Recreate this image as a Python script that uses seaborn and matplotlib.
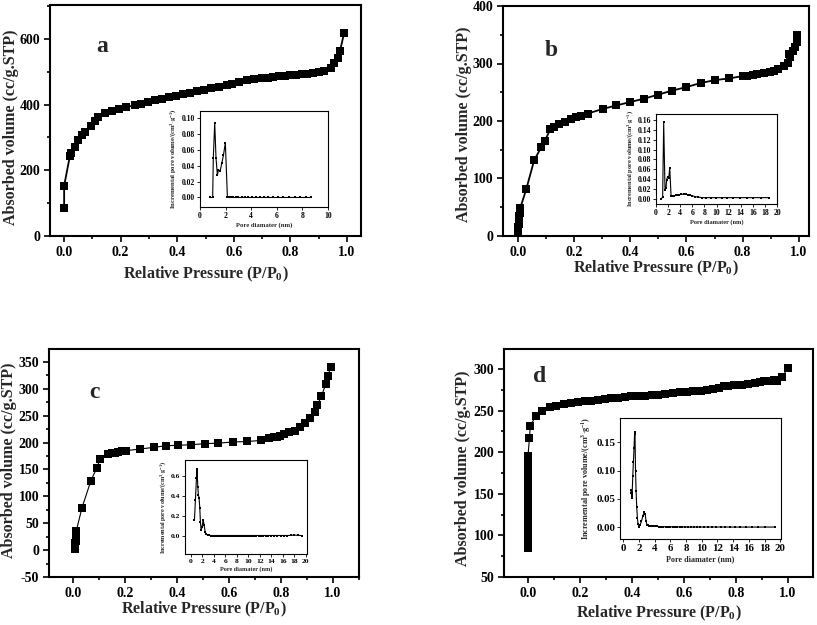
import matplotlib
matplotlib.use('Agg')
import matplotlib.pyplot as plt
import seaborn as sns
from matplotlib.ticker import MultipleLocator

# ---- panel a: isotherm ----
a_p = [0.0, 0.0, 0.02, 0.026, 0.038, 0.05, 0.063, 0.075, 0.095, 0.109, 0.121,
       0.146, 0.17, 0.193, 0.22, 0.249, 0.273, 0.297, 0.32, 0.346, 0.371,
       0.397, 0.419, 0.445, 0.471, 0.495, 0.521, 0.547, 0.575, 0.595, 0.62,
       0.646, 0.672, 0.70, 0.72, 0.74, 0.76, 0.78, 0.80, 0.82, 0.84,
       0.86, 0.88, 0.90, 0.92, 0.943, 0.955, 0.967, 0.976, 0.99]
a_v = [84, 153, 242, 252, 272, 292, 308, 318, 336, 350, 363,
       373, 381, 387, 392, 398, 403, 409, 414, 418, 423,
       427, 431, 436, 440, 445, 449, 454, 459, 464, 469,
       474, 478, 481, 482, 484, 486, 487, 489, 491, 492,
       494, 496, 499, 502, 511, 526, 541, 564, 617]
# panel a: pore size distribution
ia_d = [0.78, 0.99, 1.04, 1.15, 1.25, 1.36, 1.44, 1.57, 1.70, 1.83, 1.98, 2.14,
        2.27, 2.43, 2.6, 2.8, 3.0, 3.25, 3.5, 3.75, 4.05, 4.35, 4.65, 5.0,
        5.35, 5.7, 6.1, 6.5, 6.95, 7.4, 7.85, 8.3, 8.7]
ia_v = [0.0, 0.0, 0.050, 0.094, 0.050, 0.028, 0.035, 0.033, 0.043, 0.053, 0.069, 0.001,
        0.0, 0.0, 0.0, 0.0, 0.0, 0.0, 0.0, 0.0, 0.0, 0.0, 0.0, 0.0,
        0.0, 0.0, 0.0, 0.0, 0.0, 0.0, 0.0, 0.0, 0.0]

# ---- panel b ----
b_p = [0.0005, 0.001, 0.0015, 0.002, 0.0025, 0.003, 0.004, 0.005, 0.006, 0.007, 0.008,
       0.0296, 0.058, 0.083, 0.097, 0.115, 0.129, 0.145, 0.166, 0.19, 0.206,
       0.224, 0.249, 0.302, 0.35, 0.4, 0.45, 0.5, 0.55, 0.6, 0.65,
       0.7, 0.75, 0.8, 0.814, 0.835, 0.852, 0.877, 0.897, 0.911, 0.924,
       0.948, 0.96, 0.964, 0.97, 0.98, 0.986, 0.992, 0.994]
b_v = [0, 5, 10, 15, 20, 25, 30, 35, 40, 45, 48,
       81, 132, 154, 166, 186, 190, 194, 199, 203, 207,
       209, 213, 221, 227, 233, 239, 246, 253, 259, 266,
       271, 274, 278, 279, 280, 282, 283, 285, 287, 290,
       296, 301, 316, 311, 321, 329, 338, 350]
ib_d = [0.88, 1.1, 1.27, 1.49, 1.66, 1.77, 1.93, 2.1, 2.27, 2.49,
        2.71, 2.98, 3.25, 3.55, 3.85, 4.2, 4.55, 4.9, 5.25, 5.6,
        6.0, 6.5, 7.0, 7.6, 8.3, 9.1, 9.9, 10.9, 11.8, 12.8,
        13.9, 15.0, 16.1, 17.3, 18.6]
ib_v = [0.0, 0.003, 0.156, 0.018, 0.022, 0.039, 0.045, 0.042, 0.063, 0.006,
        0.006, 0.006, 0.007, 0.007, 0.008, 0.009, 0.009, 0.009, 0.008, 0.007,
        0.006, 0.004, 0.003, 0.002, 0.002, 0.002, 0.002, 0.002, 0.002, 0.002,
        0.002, 0.002, 0.002, 0.002, 0.002]

# ---- panel c ----
c_p = [0.008, 0.0085, 0.009, 0.0095, 0.010, 0.0105, 0.011, 0.0115, 0.012, 0.0125,
       0.035, 0.069, 0.092, 0.105, 0.133, 0.15, 0.162, 0.175, 0.188, 0.205,
       0.258, 0.31, 0.357, 0.405, 0.454, 0.508, 0.559, 0.616, 0.67, 0.725,
       0.754, 0.772, 0.783, 0.795, 0.81, 0.83, 0.853, 0.872, 0.891, 0.91,
       0.93, 0.94, 0.955, 0.972, 0.981, 0.991]
c_v = [2, 5, 9, 13, 17, 21, 25, 29, 32, 35,
       79, 129, 153, 170, 178, 180, 181, 183, 184, 185,
       188, 191, 194, 195, 196, 198, 199, 201, 202, 204,
       208, 210, 211, 213, 216, 219, 222, 229, 236, 246,
       257, 270, 286, 308, 324, 341]
ic_d = [0.64, 0.81, 0.99, 1.1, 1.22, 1.33, 1.45, 1.57, 1.68, 1.8,
        1.97, 2.14, 2.32, 2.5, 2.72, 2.96,
        3.2, 3.5, 3.8, 4.1, 4.4, 4.7, 5.0, 5.3, 5.6, 5.9,
        6.2, 6.5, 6.8, 7.1, 7.4, 7.7, 8.0, 8.3, 8.6, 8.9,
        9.2, 9.5, 9.8, 10.1, 10.4, 10.7, 11.0, 11.4, 11.8, 12.2,
        12.6, 13.0, 13.5, 14.0, 14.5, 15.0, 15.6, 16.2, 16.8, 17.4,
        18.0, 18.6, 19.3]
ic_v = [0.16, 0.36, 0.58, 0.67, 0.49, 0.41, 0.38, 0.28, 0.14, 0.06,
        0.09, 0.16, 0.11, 0.04, 0.017, 0.008,
        0.006, 0.005, 0.005, 0.005, 0.005, 0.005, 0.005, 0.005, 0.005, 0.005,
        0.005, 0.005, 0.005, 0.005, 0.005, 0.005, 0.005, 0.005, 0.005, 0.005,
        0.005, 0.005, 0.005, 0.005, 0.005, 0.005, 0.005, 0.005, 0.005, 0.005,
        0.005, 0.005, 0.005, 0.005, 0.005, 0.005, 0.005, 0.005, 0.005, 0.006,
        0.010, 0.006, 0.005]

# ---- panel d ----
d_p = [0.0, 0.0, 0.0, 0.0, 0.0, 0.0, 0.0, 0.0, 0.0, 0.0, 0.0, 0.0,
       0.0, 0.0, 0.0, 0.0, 0.0, 0.0, 0.0, 0.0, 0.0, 0.0, 0.0,
       0.006, 0.009, 0.03, 0.054, 0.084, 0.109, 0.137, 0.167, 0.193, 0.219,
       0.244, 0.27, 0.296, 0.321, 0.347, 0.373, 0.398, 0.424, 0.45, 0.476,
       0.501, 0.527, 0.559, 0.585, 0.613, 0.636, 0.665, 0.688, 0.711, 0.733,
       0.754, 0.771, 0.793, 0.823, 0.848, 0.874, 0.893, 0.908, 0.925, 0.945,
       0.958, 0.977, 0.999]
d_v = [85, 90, 95, 100, 105, 110, 115, 120, 125, 130, 135, 140,
       145, 150, 155, 160, 165, 170, 175, 180, 185, 190, 195,
       217, 231, 244, 250, 254, 256, 258, 259, 260, 261,
       262, 263, 264, 265, 265.5, 266, 267, 268, 268, 269,
       269, 270, 271, 272, 272, 273, 274, 275, 276, 277,
       279, 280, 281, 281, 282, 283, 284, 285, 286, 287,
       286, 290, 301]
id_d = [0.95, 1.0, 1.05, 1.1, 1.2, 1.28, 1.36, 1.43, 1.48, 1.55,
        1.62, 1.7, 1.79, 1.87, 2.0, 2.13, 2.3, 2.47, 2.64, 2.77,
        2.9, 3.02, 3.15, 3.3, 3.5, 3.7, 3.9, 4.1, 4.35, 4.6,
        4.85, 5.1, 5.4, 5.7, 6.0, 6.3, 6.6, 6.9, 7.2, 7.5,
        7.8, 8.2, 8.6, 9.0, 9.4, 9.8, 10.3, 10.8, 11.3, 11.8,
        12.4, 13.0, 13.6, 14.2, 14.9, 15.6, 16.4, 17.2, 18.1, 19.3]
id_v = [0.060, 0.065, 0.063, 0.052, 0.090, 0.116, 0.140, 0.165, 0.168, 0.100,
        0.064, 0.036, 0.016, 0.005, 0.0, 0.004, 0.010, 0.019, 0.026, 0.024,
        0.010, 0.0035, 0.003, 0.0025, 0.002, 0.002, 0.0018, 0.0015, 0.0012, 0.001,
        0.001, 0.0008, 0.0006, 0.0005, 0.0005, 0.0004, 0.0004, 0.0003, 0.0003, 0.0003,
        0.0002, 0.0002, 0.0002, 0.0002, 0.0002, 0.0002, 0.0002, 0.0002, 0.0002, 0.0002,
        0.0002, 0.0002, 0.0001, 0.0001, 0.0001, 0.0001, 0.0001, 0.0001, 0.0001, 0.0001]

XLABEL = 'Relative Pressure (P/P$_\\mathregular{0}$)'
YLABEL = 'Absorbed volume (cc/g.STP)'
IXLABEL = 'Pore diamater (nm)'
IYLABEL = 'Incremental pore volume/(cm$^\\mathregular{3}$$\\cdot$g$^\\mathregular{-1}$)'

W, H = 817, 625


def px_box(l, t, r, b):
    return [l / W, 1 - b / H, (r - l) / W, (b - t) / H]


sns.set_style('ticks')
plt.rcParams['font.family'] = ['Liberation Serif', 'DejaVu Serif']
plt.rcParams['font.weight'] = 'bold'
plt.rcParams['axes.labelweight'] = 'bold'
plt.rcParams['mathtext.fontset'] = 'custom'
plt.rcParams['mathtext.rm'] = 'Liberation Serif:bold'
plt.rcParams['mathtext.bf'] = 'Liberation Serif:bold'
plt.rcParams['axes.unicode_minus'] = False
plt.rcParams['axes.edgecolor'] = 'black'

fig = plt.figure(figsize=(8.17, 6.25), dpi=100)


def main_panel(box, p, v, xlim, ylim, ymaj, ymin, xmaj, lw, xlab_y, ylab_x, ylab_y, letter, letter_xy):
    ax = fig.add_axes(px_box(*box))
    sns.lineplot(x=p, y=v, ax=ax, color='black', marker='s', markersize=5.2,
                 markeredgewidth=0, linewidth=lw, sort=False, estimator=None)
    ax.set_xlim(*xlim)
    ax.set_ylim(*ylim)
    ax.xaxis.set_major_locator(MultipleLocator(xmaj))
    ax.xaxis.set_minor_locator(MultipleLocator(xmaj / 2))
    ax.yaxis.set_major_locator(MultipleLocator(ymaj))
    ax.yaxis.set_minor_locator(MultipleLocator(ymin))
    ax.tick_params(which='both', direction='out', width=1.2, labelsize=10,
                   colors='black', pad=2.5)
    ax.tick_params(which='major', length=4.5)
    ax.tick_params(which='minor', length=2.5)
    for s in ax.spines.values():
        s.set_linewidth(1.5)
        s.set_visible(True)
    ax.set_xlabel(XLABEL, fontsize=11.5, fontweight='bold')
    ax.set_ylabel(YLABEL, fontsize=11.5, fontweight='bold')
    ax.xaxis.set_label_coords(0.5, xlab_y)
    ax.yaxis.set_label_coords(ylab_x, ylab_y)
    fig.text(letter_xy[0] / W, 1 - letter_xy[1] / H, letter, fontsize=17,
             fontweight='bold', ha='center', va='center')
    ax.xaxis.set_major_formatter(plt.FormatStrFormatter('%.1f'))
    return ax


def inset(box, d, v, xlim, ylim, ymaj, yfmt, fs, tfs):
    ax = fig.add_axes(px_box(*box))
    sns.lineplot(x=d, y=v, ax=ax, color='black', marker='s', markersize=2,
                 markeredgewidth=0, linewidth=0.8, sort=False, estimator=None)
    ax.set_xlim(*xlim)
    ax.set_ylim(*ylim)
    ax.xaxis.set_major_locator(MultipleLocator(2))
    ax.yaxis.set_major_locator(MultipleLocator(ymaj))
    ax.yaxis.set_major_formatter(plt.FormatStrFormatter(yfmt))
    ax.tick_params(which='both', direction='out', width=0.6, length=2,
                   labelsize=tfs, pad=1.5, colors='black')
    for s in ax.spines.values():
        s.set_linewidth(0.8)
        s.set_visible(True)
    ax.set_xlabel(IXLABEL, fontsize=fs, fontweight='bold', labelpad=2)
    ax.set_ylabel(IYLABEL, fontsize=fs, fontweight='bold', labelpad=2)
    return ax


main_panel((50, 5, 361, 236), a_p, a_v, (-0.05, 1.05), (0, 703), 200, 100, 0.2, 1.3,
           -0.125, -0.1, 0.47, 'a', (102, 47))
main_panel((503, 6, 809, 236), b_p, b_v, (-0.053, 1.036), (0, 400), 100, 50, 0.2, 1.3,
           -0.1, -0.1, 0.487, 'b', (551, 50))
main_panel((49, 349, 359, 577), c_p, c_v, (-0.092, 1.1), (-50, 374), 50, 25, 0.2, 0.8,
           -0.10, -0.102, 0.51, 'c', (94, 393))
main_panel((504, 349, 813, 577), d_p, d_v, (-0.092, 1.096), (50, 324), 50, 25, 0.2, 0.8,
           -0.118, -0.106, 0.478, 'd', (540, 376))

inset((200, 111, 328, 207), ia_d, ia_v, (0, 10), (-0.012, 0.109), 0.02, '%.2f', 4.8, 5.5)
inset((656, 114, 777, 204), ib_d, ib_v, (0, 20), (-0.011, 0.173), 0.02, '%.2f', 4.6, 5.6)
inset((185, 460, 307, 554), ic_d, ic_v, (-1.0, 20.2), (-0.18, 0.76), 0.2, '%.1f', 4.4, 5.4)
inset((620, 418, 781, 539), id_d, id_v, (-0.43, 20.1), (-0.021, 0.193), 0.05, '%.2f', 5.9, 7.8)

plt.savefig('out.png', dpi=100)
print('saved out.png')
